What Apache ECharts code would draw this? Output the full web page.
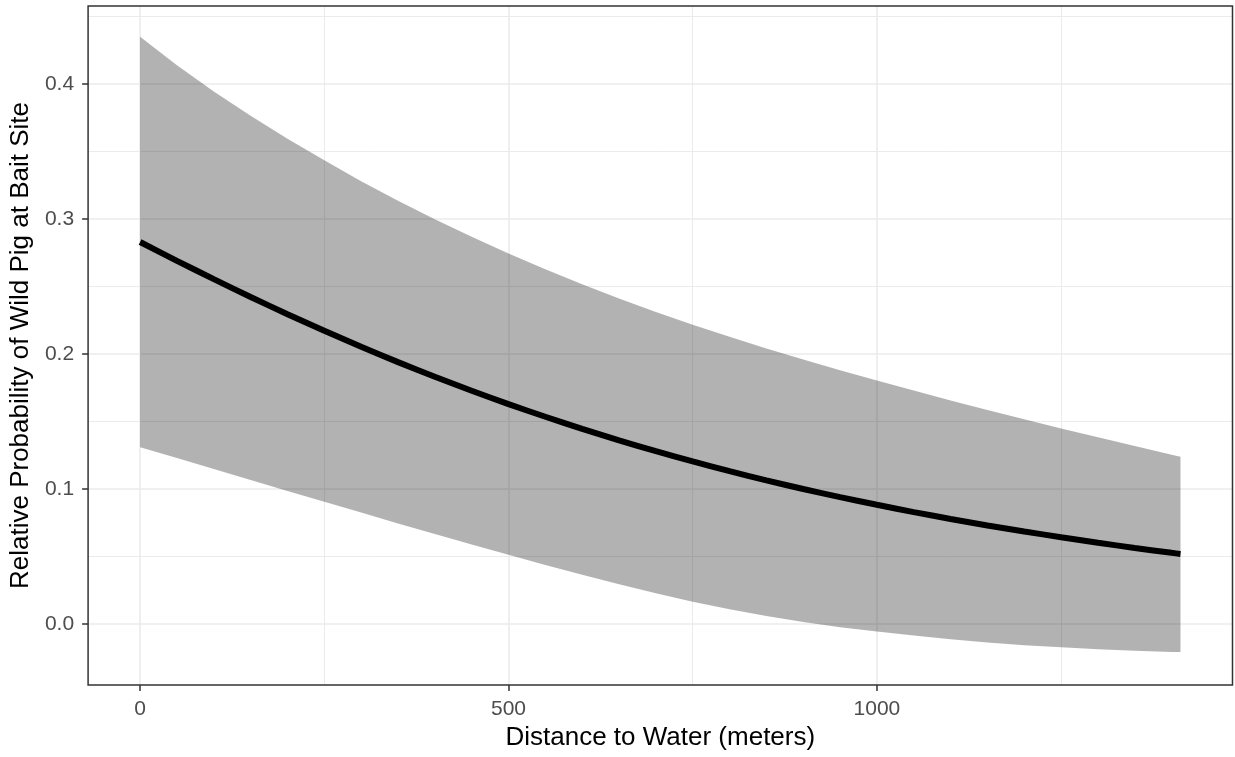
<!DOCTYPE html>
<html>
<head>
<meta charset="utf-8">
<script src="https://cdn.jsdelivr.net/npm/echarts@6/dist/echarts.min.js"></script>
<style>
html,body{margin:0;padding:0;background:#fff;}
#chart{width:1235px;height:757px;}
</style>
</head>
<body>
<div id="chart"></div>
<script>
// Distance to water (m)
const distances = [0,50,100,150,200,250,300,350,400,450,500,550,600,650,700,750,800,850,900,950,1000,1050,1100,1150,1200,1250,1300,1350,1400,1412];
// Fitted relative probability
const fitValues = [0.283,0.269,0.2555,0.2422,0.2295,0.2172,0.2053,0.194,0.1831,0.1728,0.1629,0.1535,0.1446,0.1361,0.128,0.1204,0.1132,0.1064,0.1,0.094,0.0883,0.0829,0.0778,0.073,0.0685,0.0643,0.0602,0.0563,0.0527,0.0519];
// Upper confidence limit
const upperValues = [0.435,0.414,0.3945,0.3765,0.3595,0.3435,0.328,0.3135,0.2998,0.2868,0.2745,0.2628,0.2517,0.2412,0.2312,0.2217,0.2127,0.2041,0.1959,0.188,0.1804,0.1729,0.1656,0.1585,0.1516,0.1449,0.1383,0.1318,0.1253,0.1238];
// Lower confidence limit
const lowerValues = [0.131,0.1229,0.1148,0.1067,0.0986,0.0905,0.0825,0.0745,0.0666,0.0588,0.0512,0.0437,0.0364,0.0294,0.0228,0.0165,0.011,0.006,0.0015,-0.0025,-0.0055,-0.0086,-0.0114,-0.0137,-0.0157,-0.0173,-0.0188,-0.0199,-0.0207,-0.0208];

const xTickValues = [0, 500, 1000];
const xMinorValues = [250, 750, 1250];
const yTickValues = [0, 0.1, 0.2, 0.3, 0.4];
const yMinorValues = [0.05, 0.15, 0.25, 0.35, 0.45];

const xTitle = 'Distance to Water (meters)';
const yTitle = 'Relative Probability of Wild Pig at Bait Site';

const FONT = '"Liberation Sans", Arial, sans-serif';

const chart = echarts.init(document.getElementById('chart'), null, {renderer: 'canvas'});

const gridLines = [];
xTickValues.forEach(v => gridLines.push({xAxis: v, lineStyle: {width: 1.6}}));
xMinorValues.forEach(v => gridLines.push({xAxis: v, lineStyle: {width: 1}}));
yTickValues.forEach(v => gridLines.push({yAxis: v, lineStyle: {width: 1.6}}));
yMinorValues.forEach(v => gridLines.push({yAxis: v, lineStyle: {width: 1}}));

const option = {
  backgroundColor: '#ffffff',
  animation: false,
  grid: {
    left: 86.5, right: 2.5, top: 6, bottom: 72,
    show: true, borderColor: '#333333', borderWidth: 1.5, backgroundColor: 'transparent',
    z: 10
  },
  xAxis: {
    type: 'value',
    min: -70.6, max: 1482.6,
    name: xTitle,
    nameLocation: 'middle',
    nameGap: 38,
    nameTextStyle: {fontFamily: FONT, fontSize: 26, color: '#000000'},
    axisLine: {show: false, onZero: false},
    axisTick: {show: true, customValues: xTickValues, length: 6, lineStyle: {color: '#333333', width: 1.5}},
    axisLabel: {customValues: xTickValues, margin: 14, fontFamily: FONT, fontSize: 21, color: '#4D4D4D',
      formatter: v => String(v)},
    splitLine: {show: false},
    minorSplitLine: {show: false}
  },
  yAxis: {
    type: 'value',
    min: -0.0452, max: 0.4578,
    name: yTitle,
    nameLocation: 'middle',
    nameGap: 48,
    nameRotate: 90,
    nameTextStyle: {fontFamily: FONT, fontSize: 26, color: '#000000'},
    axisLine: {show: false, onZero: false},
    axisTick: {show: true, customValues: yTickValues, length: 6, lineStyle: {color: '#333333', width: 1.5}},
    axisLabel: {customValues: yTickValues, margin: 14, fontFamily: FONT, fontSize: 21, color: '#4D4D4D',
      formatter: v => v.toFixed(1)},
    splitLine: {show: false},
    minorSplitLine: {show: false}
  },
  series: [
    {
      type: 'line',
      data: [],
      z: 1,
      silent: true,
      markLine: {
        silent: true,
        z: 1,
        symbol: ['none', 'none'],
        label: {show: false},
        emphasis: {disabled: true},
        lineStyle: {type: 'solid', color: '#EBEBEB'},
        data: gridLines
      }
    },
    {
      type: 'custom',
      z: 2,
      silent: true,
      data: [[distances[0], fitValues[0]]],
      renderItem: function (params, api) {
        const pts = [];
        for (let i = 0; i < distances.length; i++) pts.push(api.coord([distances[i], upperValues[i]]));
        for (let i = distances.length - 1; i >= 0; i--) pts.push(api.coord([distances[i], lowerValues[i]]));
        return {
          type: 'polygon',
          shape: {points: pts},
          style: {fill: 'rgba(0,0,0,0.3)', stroke: null}
        };
      }
    },
    {
      type: 'line',
      z: 3,
      silent: true,
      data: distances.map((d, i) => [d, fitValues[i]]),
      smooth: 0.2,
      showSymbol: false,
      symbol: 'none',
      lineStyle: {color: '#000000', width: 6, cap: 'butt'}
    }
  ]
};
chart.setOption(option);
</script>
</body>
</html>
